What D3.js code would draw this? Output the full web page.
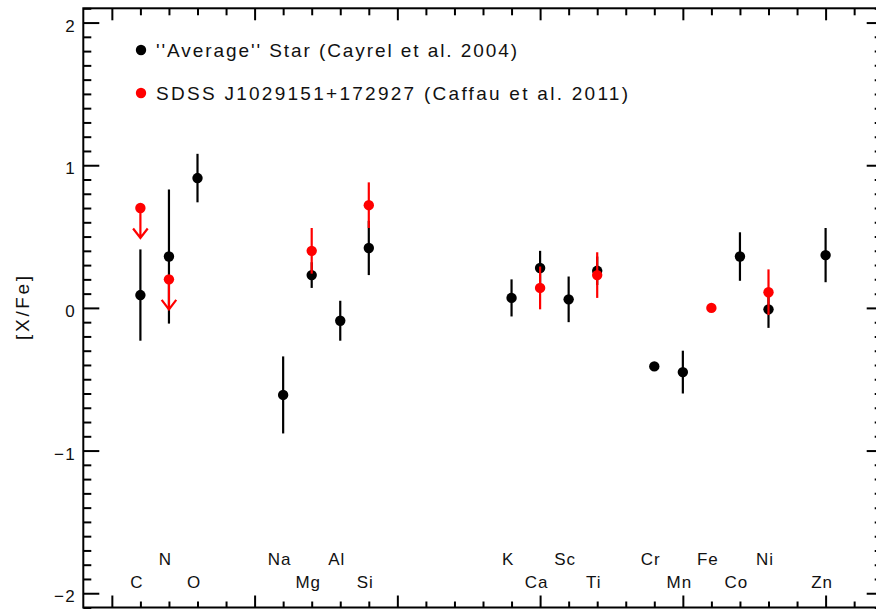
<!DOCTYPE html>
<html>
<head>
<meta charset="utf-8">
<script src="https://cdn.jsdelivr.net/npm/d3@7"></script>
<style>
  html, body { margin: 0; padding: 0; background: #fff; }
  svg { display: block; }
  text { font-family: "Liberation Sans", Arial, sans-serif; fill: #111; }
</style>
</head>
<body>
<svg id="chart" width="876" height="610"></svg>
<script>
// Elements (atomic number) and label rows
const elements = ["C", "N", "O", "Na", "Mg", "Al", "Si", "K", "Ca", "Sc", "Ti", "Cr", "Mn", "Fe", "Co", "Ni", "Zn"];
const atomicNumbers = [6, 7, 8, 11, 12, 13, 14, 19, 20, 21, 22, 24, 25, 26, 27, 28, 30];
const labelRow = [1, 0, 1, 0, 1, 0, 1, 0, 1, 0, 1, 0, 1, 0, 1, 0, 1]; // 0 = upper, 1 = lower

// "Average" star, Cayrel et al. 2004
const cayrelElements = ["C", "N", "O", "Na", "Mg", "Al", "Si", "K", "Ca", "Sc", "Ti", "Cr", "Mn", "Co", "Ni", "Zn"];
const cayrelValues   = [0.09, 0.36, 0.91, -0.61, 0.23, -0.09, 0.42, 0.07, 0.28, 0.06, 0.26, -0.41, -0.45, 0.36, -0.01, 0.37];
const cayrelErrors   = [0.32, 0.47, 0.17, 0.27, 0.09, 0.14, 0.19, 0.13, 0.12, 0.16, 0.10, 0.02, 0.15, 0.17, 0.13, 0.19];

// SDSS J1029151+172927, Caffau et al. 2011
const caffauElements = ["C", "N", "Mg", "Si", "Ca", "Ti", "Fe", "Ni"];
const caffauValues   = [0.70, 0.20, 0.40, 0.72, 0.14, 0.23, 0.00, 0.11];
const caffauErrors   = [0, 0, 0.16, 0.16, 0.15, 0.16, 0, 0.16];
const caffauUpperLimit = [true, true, false, false, false, false, false, false];

const legendLabels = ["''Average'' Star (Cayrel et al. 2004)", "SDSS J1029151+172927 (Caffau et al. 2011)"];
const legendColors = ["#000", "#ff0000"];

const yMajorTicks = [-2, -1, 0, 1, 2];
const yTickLabels = ["\u22122", "\u22121", "0", "1", "2"];

const Z = Object.fromEntries(elements.map((e, i) => [e, atomicNumbers[i]]));

const svg = d3.select("#chart");
const plotLeft = 83.3, plotRight = 882.7, plotTop = 8.3, plotBottom = 607.5;

const x = d3.scaleLinear().domain([4, 32]).range([plotLeft, plotRight]);
const y = d3.scaleLinear().domain([-2.1, 2.1]).range([plotBottom, plotTop]);

const axisStroke = 2;
const fontFamily = "'Liberation Sans', Arial, sans-serif";

function styleAxis(g) {
  g.select(".domain").remove();
  g.selectAll(".tick line").attr("stroke", "#000").attr("stroke-width", axisStroke);
}

// Minor and major ticks on all four sides
const xMinor = d3.range(5, 32, 1).filter(v => v % 5 !== 0);
const xMajor = d3.range(5, 32, 5);
const yMinor = d3.range(-21, 22).map(v => v / 10).filter(v => Math.abs(v * 10) % 10 !== 0);

svg.append("g").attr("transform", `translate(0,${plotBottom})`)
  .call(d3.axisBottom(x).tickValues(xMinor).tickSize(-6).tickFormat(""))
  .call(styleAxis);
svg.append("g").attr("transform", `translate(0,${plotBottom})`)
  .call(d3.axisBottom(x).tickValues(xMajor).tickSize(-12).tickFormat(""))
  .call(styleAxis);
svg.append("g").attr("transform", `translate(0,${plotTop})`)
  .call(d3.axisTop(x).tickValues(xMinor).tickSize(-7).tickFormat(""))
  .call(styleAxis);
svg.append("g").attr("transform", `translate(0,${plotTop})`)
  .call(d3.axisTop(x).tickValues(xMajor).tickSize(-12).tickFormat(""))
  .call(styleAxis);

svg.append("g").attr("transform", `translate(${plotLeft},0)`)
  .call(d3.axisLeft(y).tickValues(yMinor).tickSize(-8).tickFormat(""))
  .call(styleAxis);
const yAxisG = svg.append("g").attr("transform", `translate(${plotLeft},0)`)
  .call(d3.axisLeft(y).tickValues(yMajorTicks).tickSize(-16).tickPadding(7)
        .tickFormat((d, i) => yTickLabels[i]))
  .call(styleAxis);
yAxisG.selectAll(".tick text")
  .style("font-family", fontFamily)
  .attr("font-size", 17).attr("fill", "#111").attr("dy", "0.5em")
  .attr("letter-spacing", 1.5);

svg.append("g").attr("transform", `translate(${plotRight},0)`)
  .call(d3.axisRight(y).tickValues(yMinor).tickSize(-8).tickFormat(""))
  .call(styleAxis);
svg.append("g").attr("transform", `translate(${plotRight},0)`)
  .call(d3.axisRight(y).tickValues(yMajorTicks).tickSize(-16).tickFormat(""))
  .call(styleAxis);

// Frame
svg.append("rect")
  .attr("x", plotLeft).attr("y", plotTop)
  .attr("width", plotRight - plotLeft).attr("height", plotBottom - plotTop)
  .attr("fill", "none").attr("stroke", "#000").attr("stroke-width", axisStroke);

// Y axis title
svg.append("text")
  .attr("transform", `translate(29,${y(0)}) rotate(-90)`)
  .attr("text-anchor", "middle")
  .attr("font-size", 19)
  .attr("textLength", 64).attr("lengthAdjust", "spacing")
  .text("[X/Fe]");

// Element labels along the bottom
const rowBaseline = [565, 588];
svg.append("g").selectAll("text")
  .data(elements)
  .join("text")
  .attr("x", (d, i) => x(atomicNumbers[i]) - 3.5)
  .attr("y", (d, i) => rowBaseline[labelRow[i]])
  .attr("text-anchor", "middle")
  .attr("font-size", 17)
  .attr("letter-spacing", 1)
  .text(d => d);

// Data series
function drawSeries(names, values, errors, color, limits) {
  const data = names.map((n, i) => ({ z: Z[n], v: values[i], e: errors[i], lim: limits ? limits[i] : false }));
  const g = svg.append("g");
  g.selectAll("line.err")
    .data(data.filter(d => d.e > 0))
    .join("line")
    .attr("class", "err")
    .attr("x1", d => x(d.z)).attr("x2", d => x(d.z))
    .attr("y1", d => y(d.v - d.e)).attr("y2", d => y(d.v + d.e))
    .attr("stroke", color).attr("stroke-width", 2.2);
  // Upper-limit arrows
  const arrowLen = 30, headW = 7.3, headH = 9.5;
  const lim = data.filter(d => d.lim);
  g.selectAll("path.lim")
    .data(lim)
    .join("path")
    .attr("class", "lim")
    .attr("d", d => {
      const cx = x(d.z), cy = y(d.v), ty = cy + arrowLen;
      return `M${cx},${cy}V${ty}M${cx - headW},${ty - headH}L${cx},${ty}L${cx + headW},${ty - headH}`;
    })
    .attr("fill", "none").attr("stroke", color).attr("stroke-width", 2.2);
  g.selectAll("circle")
    .data(data)
    .join("circle")
    .attr("cx", d => x(d.z)).attr("cy", d => y(d.v))
    .attr("r", 5.2)
    .attr("fill", color);
}

drawSeries(cayrelElements, cayrelValues, cayrelErrors, legendColors[0]);
drawSeries(caffauElements, caffauValues, caffauErrors, legendColors[1], caffauUpperLimit);

// Legend
const legend = svg.append("g");
const legendY = [50, 93];
const legendTextWidth = [361, 472];
legendLabels.forEach((t, i) => {
  legend.append("circle").attr("cx", 141).attr("cy", legendY[i]).attr("r", 5.2).attr("fill", legendColors[i]);
  legend.append("text").attr("x", 156).attr("y", legendY[i] + 7)
    .attr("font-size", 19)
    .attr("textLength", legendTextWidth[i]).attr("lengthAdjust", "spacing")
    .text(t);
});
</script>
</body>
</html>
